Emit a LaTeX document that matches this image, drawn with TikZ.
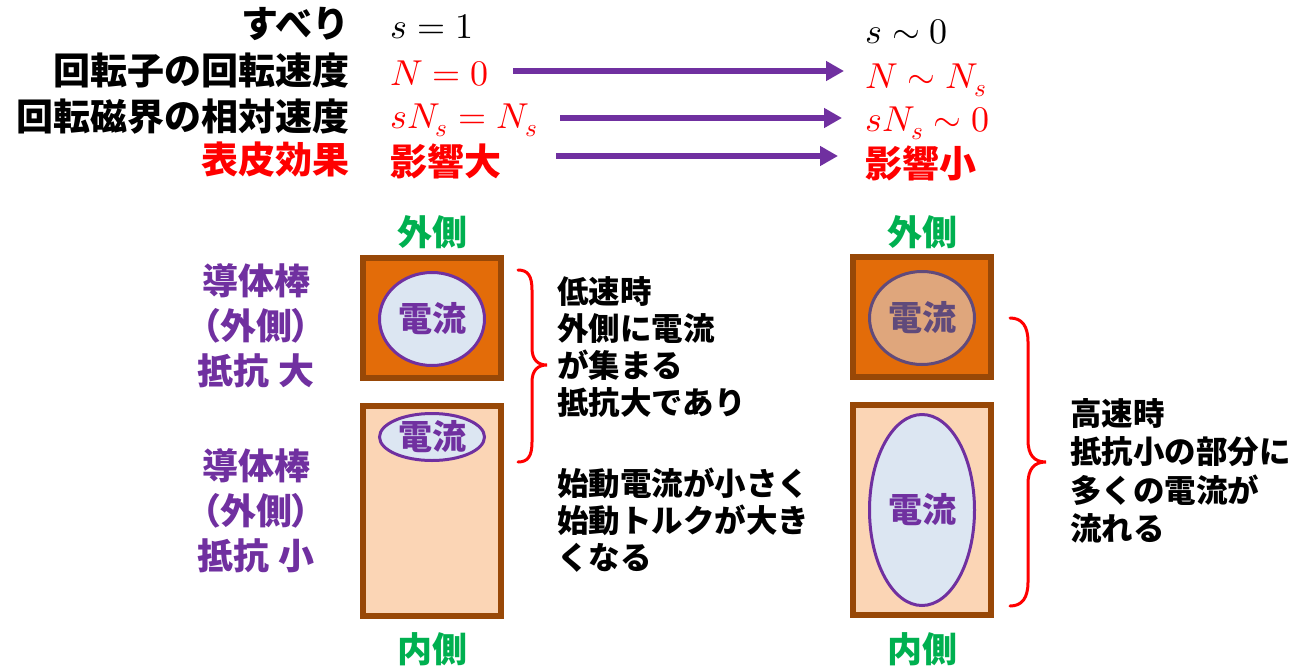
\documentclass[tikz,border=0pt]{standalone}
\usepackage{fontspec}
\usepackage{unicode-math}
\newfontfamily\jp{Noto Sans CJK JP}
\newfontfamily\jpp{Noto Sans CJK JP}[RawFeature=+palt]
\usetikzlibrary{arrows.meta,shapes.geometric}
\definecolor{purp}{HTML}{7030A0}
\definecolor{grn}{HTML}{00B050}
\definecolor{org}{HTML}{E36C09}
\definecolor{brn}{HTML}{984807}
\definecolor{peach}{HTML}{FBD5B5}
\definecolor{lblue}{HTML}{DCE6F2}
\definecolor{tanfill}{HTML}{DFA67C}
\definecolor{dpurp}{HTML}{604A7B}
\definecolor{myred}{HTML}{FF0000}
\begin{document}
\begin{tikzpicture}[x=1pt,y=-1pt,
  hd/.style={font=\jp\bfseries\fontsize{37}{40}\selectfont, inner sep=0pt, anchor=east},
  mth/.style={font=\fontsize{36}{40}\selectfont, inner sep=0pt, anchor=base west},
  jpv/.style={font=\jp\bfseries\fontsize{37}{40}\selectfont, inner sep=0pt, anchor=west, text=myred},
  arr/.style={draw=purp, line width=6pt, -{Triangle[length=18pt,width=19pt]}},
  side/.style={font=\jp\bfseries\fontsize{35}{40}\selectfont, text=grn, inner sep=0pt},
  rodbox/.style={draw=brn, line width=6pt, inner sep=0pt, minimum width=138pt},
  cur/.style={ellipse, draw=purp, line width=3pt, fill=lblue, inner sep=0pt, minimum width=105pt},
  curtxt/.style={font=\jp\bfseries\fontsize{34}{40}\selectfont, text=purp, inner sep=0pt},
  rod/.style={font=\jp\bfseries\fontsize{36}{45}\selectfont, text=purp, inner sep=0pt, align=center},
  note/.style={font=\jp\bfseries\fontsize{31.5}{37}\selectfont, inner sep=0pt, align=left, anchor=north west},
  brc/.style={draw=myred, line width=3pt, line cap=round}
]
\useasboundingbox (0,0) rectangle (1314,667);

% header labels
\node[hd] (h1) at (350,24) {すべり};
\node[hd] (h2) at (350,71) {回転子の回転速度};
\node[hd] (h3) at (350,117) {回転磁界の相対速度};
\node[hd, text=myred] (h4) at (350,160) {表皮効果};

% left values
\node[mth] (l1) at (390,38) {$s=1$};
\node[mth, text=myred] (l2) at (390,85) {$N=0$};
\node[mth, text=myred] (l3) at (390,128) {$sN_s=N_s$};
\node[jpv] (l4) at (390,161) {影響大};

% right values
\node[mth] (r1) at (865,43) {$s\sim 0$};
\node[mth, text=myred] (r2) at (865,88) {$N\sim N_s$};
\node[mth, text=myred] (r3) at (865,131) {$sN_s\sim 0$};
\node[jpv] (r4) at (865,163) {影響小};

% arrows
\coordinate (a1s) at (513,71);  \coordinate (a1e) at (844,71);
\coordinate (a2s) at (560,118); \coordinate (a2e) at (842,118);
\coordinate (a3s) at (556,156); \coordinate (a3e) at (838,156);
\draw[arr] (a1s) -- (a1e);
\draw[arr] (a2s) -- (a2e);
\draw[arr] (a3s) -- (a3e);

% left rod
\node[side] (lo) at (432,232) {外側};
\node[rodbox, fill=org, minimum height=120pt] (lb1) at (432,318) {};
\node[rodbox, fill=peach, minimum height=210pt] (lb2) at (432,511) {};
\node[cur, minimum height=93pt] (le1) at (432,319) {};
\node[curtxt] (lt1) at (le1) {電流};
\node[cur, minimum height=47pt] (le2) at (432,437) {};
\node[curtxt] (lt2) at (le2) {電流};
\node[side] (li) at (432,649) {内側};

\node[rod] (rl1) at (256,326) {導体棒\\{\jpp （外側）}\\抵抗 大};
\node[rod] (rl2) at (256,511) {導体棒\\{\jpp （外側）}\\抵抗 小};

% left brace
\draw[brc] (518,270) .. controls (528,270) and (532,276) .. (532,290) -- (532,348)
  .. controls (532,360) and (538,365) .. (547,365)
  .. controls (538,365) and (532,370) .. (532,382) -- (532,442)
  .. controls (532,456) and (528,462) .. (518,462);

\node[note] (n1) at (557,276) {低速時\\外側に電流\\が集まる\\抵抗大であり};
\node[note] (n2) at (557,468) {始動電流が小さく\\始動トルクが大き\\くなる};

% right rod
\node[side] (ro) at (922,232) {外側};
\node[rodbox, fill=org, minimum height=120pt] (rb1) at (922,317) {};
\node[rodbox, fill=peach, minimum height=210pt] (rb2) at (922,510) {};
\node[cur, draw=dpurp, fill=tanfill, minimum height=93pt] (re1) at (922,318) {};
\node[curtxt, text=dpurp] (rt1) at (re1) {電流};
\node[cur, minimum height=191pt] (re2) at (922,510) {};
\node[curtxt] (rt2) at (re2) {電流};
\node[side] (ri) at (922,649) {内側};

% right brace
\draw[brc] (1010,318) .. controls (1022,318) and (1028,326) .. (1028,342) -- (1028,440)
  .. controls (1028,455) and (1034,462) .. (1046,462)
  .. controls (1034,462) and (1028,469) .. (1028,484) -- (1028,582)
  .. controls (1028,598) and (1022,606) .. (1010,606);

\node[note, font=\jp\bfseries\fontsize{31.5}{38.5}\selectfont] (n3) at (1070,398) {高速時\\抵抗小の部分に\\多くの電流が\\流れる};
\end{tikzpicture}
\end{document}
